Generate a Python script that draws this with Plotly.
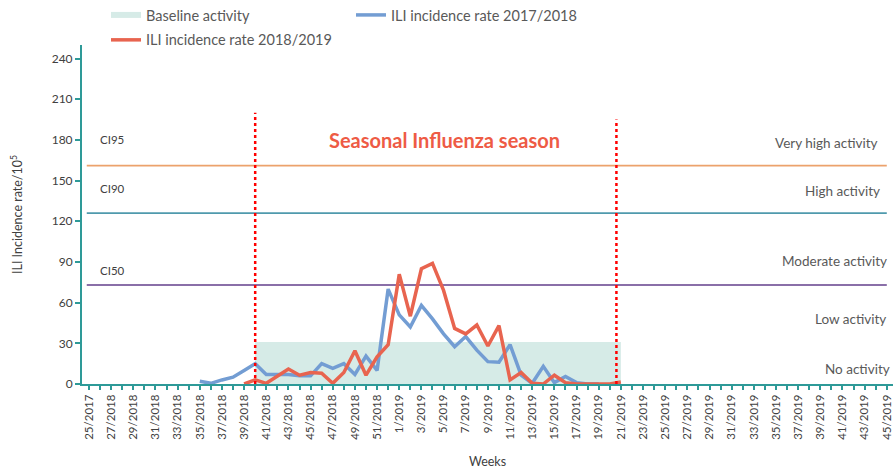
import plotly.graph_objects as go

weeks = (["25/2017"] + [f"{w}/2018" for w in range(26, 53)] + [f"{w}/2019" for w in range(1, 46)])

# ILI incidence rate 2017/2018 (starts at week 35/2018)
ili_1718_start = "35/2018"
ili_1718 = [2, 0.5, 3, 5, 10, 15, 7, 7, 7, 6, 6, 15, 11.5, 15, 7, 20.5, 10, 70, 51, 42, 58,
            48, 37, 27.5, 35, 25, 16.5, 16, 29, 6.5, 0.5, 13, 1, 5.5, 1, 0, 0]

# ILI incidence rate 2018/2019 (starts at week 39/2018)
ili_1819_start = "39/2018"
ili_1819 = [0, 3, 0.5, 5.5, 11, 6.5, 8.5, 8, 0.5, 8.5, 24.5, 6.5, 20, 29, 81, 50, 85, 89,
            69, 41, 37, 43.5, 28, 43, 3, 8.5, 0.5, 0, 6.5, 1, 0, 0, 0, 0, 1.5]

baseline_weeks = ["40/2018", "21/2019"]
baseline_level = [31, 31]

thresholds = {"CI95": 161, "CI90": 126, "CI50": 73}
threshold_colors = {"CI95": "#ECA26C", "CI90": "#4F9AAD", "CI50": "#8A6FA8"}
threshold_label_y = {"CI95": 180, "CI90": 144, "CI50": 84}

activity_labels = ["Very high activity", "High activity", "Moderate activity", "Low activity", "No activity"]
activity_y = [178, 142, 91, 48, 11]
activity_x = [71.4, 71.6, 72.2, 72.1, 72.5]

season_start = "40/2018"
season_end_pos = 47.6
y_ticks = [0, 30, 60, 90, 120, 150, 180, 210, 240]

FONT = "Lato"
TEAL = "#2E9A98"
GRAY = "#595959"

idx = {w: i for i, w in enumerate(weeks)}
s1 = idx[ili_1718_start]
s2 = idx[ili_1819_start]

fig = go.Figure()

fig.add_trace(go.Scatter(
    x=[idx[w] for w in baseline_weeks], y=baseline_level, mode="none",
    fill="tozeroy", fillcolor="#D6EBE7", name="Baseline activity", legend="legend"))
fig.add_trace(go.Scatter(
    x=list(range(s1, s1 + len(ili_1718))), y=ili_1718, mode="lines",
    line=dict(color="#739DD3", width=3.5), name="ILI incidence rate 2017/2018", legend="legend"))
fig.add_trace(go.Scatter(
    x=list(range(s2, s2 + len(ili_1819))), y=ili_1819, mode="lines",
    line=dict(color="#E8644F", width=3.5), name="ILI incidence rate 2018/2019", legend="legend2"))

for k, v in thresholds.items():
    fig.add_shape(type="line", xref="x", yref="y", x0=-0.2, x1=72, y0=v, y1=v,
                  line=dict(color=threshold_colors[k], width=1.8), layer="below")
    fig.add_annotation(x=2.1, y=threshold_label_y[k], text=k, showarrow=False,
                       font=dict(family=FONT, size=11.5, color="#404040"))

fig.add_shape(type="line", x0=idx[season_start], x1=idx[season_start], y0=0, y1=200,
              line=dict(color="#FF0000", width=2.5, dash="dot"))
fig.add_shape(type="line", x0=season_end_pos, x1=season_end_pos, y0=0, y1=195,
              line=dict(color="#FF0000", width=2.5, dash="dot"))

fig.add_annotation(x=32.1, y=180, text="<b>Seasonal Influenza season</b>", showarrow=False,
                   font=dict(family=FONT, size=20, color="#EE5B45"))

for t, xv, yv in zip(activity_labels, activity_x, activity_y):
    fig.add_annotation(x=xv, y=yv, text=t, showarrow=False, xanchor="right",
                       font=dict(family=FONT, size=13.5, color=GRAY))

fig.update_layout(
    width=894, height=469,
    margin=dict(l=82, r=1, t=45, b=85, autoexpand=False),
    plot_bgcolor="white", paper_bgcolor="white",
    font=dict(family=FONT, size=11, color=GRAY),
    showlegend=True,
    legend=dict(orientation="h", x=0.0296, y=1.0885, xanchor="left", yanchor="middle",
                entrywidth=200, entrywidthmode="pixels",
                font=dict(family=FONT, size=14.5, color=GRAY), bgcolor="rgba(0,0,0,0)"),
    legend2=dict(orientation="h", x=0.0296, y=1.015, xanchor="left", yanchor="middle",
                 font=dict(family=FONT, size=14.5, color=GRAY), bgcolor="rgba(0,0,0,0)"),
    xaxis=dict(
        range=[-0.63, 72.56], tickmode="array",
        tickvals=list(range(0, len(weeks), 2)), ticktext=weeks[::2],
        tickangle=-90, ticks="outside", ticklen=4, tickcolor=TEAL, tickwidth=1.5,
        minor=dict(dtick=1, tick0=0, ticks="outside", ticklen=4, tickcolor=TEAL, tickwidth=1.5, showgrid=False),
        showline=True, linecolor=TEAL, linewidth=2, showgrid=False, zeroline=False,
        automargin=False, ticklabeloverflow="allow",
        tickfont=dict(family=FONT, size=11.5, color="#404040"),
        title=dict(text="Weeks", font=dict(family=FONT, size=12.5, color="#404040"), standoff=18),
    ),
    yaxis=dict(
        range=[0, 250], tickvals=y_ticks, ticks="outside", ticklen=5, tickcolor=TEAL, tickwidth=1.5,
        showline=True, linecolor=TEAL, linewidth=2, showgrid=False, zeroline=False,
        automargin=False,
        tickfont=dict(family=FONT, size=12, color="#404040"),
        title=dict(text="ILI Incidence rate/10<sup>5</sup>", font=dict(family=FONT, size=12.5, color="#404040"),
                   standoff=26),
    ),
)

fig.write_html("out.html", config={"displayModeBar": False},
               post_script="document.body.style.margin='0';document.body.style.overflow='hidden';")
